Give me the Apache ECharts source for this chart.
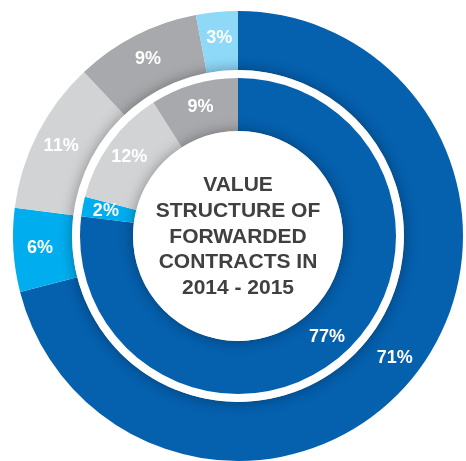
<!DOCTYPE html>
<html>
<head>
<meta charset="utf-8">
<script src="https://cdn.jsdelivr.net/npm/echarts@6/dist/echarts.min.js"></script>
<style>
  html, body { margin: 0; padding: 0; background: #fff; }
  #chart { width: 466px; height: 461px; }
</style>
</head>
<body>
<div id="chart"></div>
<script>
// 2015 (outer ring) and 2014 (inner ring) shares, clockwise from 12 o'clock
var outerValues = [71, 6, 11, 9, 3];
var outerColors = ['#0560ae', '#00aeef', '#d1d3d4', '#a7a9ac', '#8ed8f8'];
var innerValues = [77, 2, 12, 9];
var innerColors = ['#0560ae', '#00aeef', '#d1d3d4', '#a7a9ac'];
var centerLines = ['VALUE', 'STRUCTURE OF', 'FORWARDED', 'CONTRACTS IN', '2014 - 2015'];

var cx = 238, cy = 236;

function toData(vals, cols) {
    return vals.map(function (v, i) {
        return { value: v, name: 'p' + i, itemStyle: { color: cols[i] } }
    })
}

var ringLabel = {
    show: true,
    position: 'inside',
    formatter: '{c}%',
    color: '#fff',
    fontFamily: 'Liberation Sans, Arial, sans-serif',
    fontWeight: 'bold',
    fontSize: 18
};

// white discs used as the gap ring and the centre, with a soft shadow
function disc(r, z) {
    return {
        type: 'pie',
        z: z,
        silent: true,
        center: [cx, cy],
        radius: [0, r],
        label: { show: false },
        labelLine: { show: false },
        emphasis: { disabled: true },
        itemStyle: {
            color: '#fff',
            shadowBlur: 14,
            shadowColor: 'rgba(0,0,0,0.35)'
        },
        data: [{ value: 1 }]
    }
}

var chart = echarts.init(document.getElementById('chart'));
chart.setOption({
    animation: false,
    series: [
        {
            type: 'pie',
            z: 1,
            center: [cx, cy],
            radius: [166, 225],
            startAngle: 90,
            label: ringLabel,
            labelLine: { show: false },
            emphasis: { disabled: true },
            data: toData(outerValues, outerColors)
        },
        disc(166, 2),
        {
            type: 'pie',
            z: 3,
            center: [cx, cy],
            radius: [105, 158],
            startAngle: 90,
            label: ringLabel,
            labelLine: { show: false },
            emphasis: { disabled: true },
            data: toData(innerValues, innerColors)
        },
        disc(105, 4)
    ],
    graphic: [{
        type: 'text',
        z: 10,
        x: cx,
        y: cy + 1,
        style: {
            text: centerLines.join('\n'),
            align: 'center',
            verticalAlign: 'middle',
            fill: '#404041',
            font: 'bold 21px "Liberation Sans", Arial, sans-serif',
            lineHeight: 25.7
        }
    }]
})
</script>
</body>
</html>
